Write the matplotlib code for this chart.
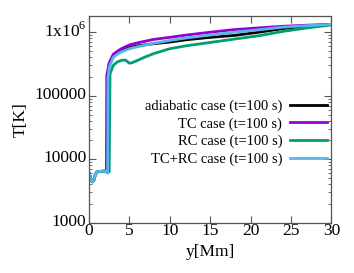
import matplotlib
matplotlib.use("Agg")
import matplotlib.pyplot as plt
import matplotlib.transforms as mtransforms
from matplotlib.ticker import LogLocator, NullFormatter

plt.rcParams['font.family'] = ['Liberation Serif', 'DejaVu Serif']
plt.rcParams['mathtext.fontset'] = 'custom'
plt.rcParams['mathtext.rm'] = 'Liberation Serif'

labels = ["adiabatic case (t=100 s)", "TC case (t=100 s)",
          "RC case (t=100 s)", "TC+RC case (t=100 s)"]
colors = ["#000000", "#9400D3", "#009E73", "#56B4E9"]

low_x = [0, 0.2, 0.4, 0.6, 0.8, 1.0, 1.3, 1.6, 2.0]
low_T = [6100, 5000, 4400, 4700, 5800, 6300, 6400, 6450, 6500]

adi_x = low_x + [2.25, 2.3, 2.5, 3, 3.5, 4, 5, 6, 8, 10, 12, 15, 18, 21, 24, 27, 30]
adi_T = low_T + [6500, 2.0e5, 3.1e5, 4.2e5, 4.7e5, 5.1e5, 5.7e5, 6.1e5, 6.6e5, 7.0e5,
                 7.6e5, 8.3e5, 8.9e5, 1.0e6, 1.14e6, 1.25e6, 1.33e6]

tc_x = low_x + [2.15, 2.2, 2.5, 3, 3.5, 4, 5, 6, 8, 10, 12, 15, 18, 21, 24, 27, 30]
tc_T = low_T + [6500, 2.1e5, 3.3e5, 4.5e5, 5.0e5, 5.5e5, 6.3e5, 6.8e5, 7.7e5, 8.3e5,
                9.0e5, 1.0e6, 1.1e6, 1.17e6, 1.24e6, 1.29e6, 1.33e6]

rc_x = low_x + [2.5, 2.6, 3, 3.5, 4, 4.5, 5, 5.3, 6, 7, 8, 10, 12, 15, 18, 21, 24, 27, 30]
rc_T = low_T + [6300, 2.2e5, 3.0e5, 3.4e5, 3.6e5, 3.65e5, 3.25e5, 3.3e5, 3.6e5, 4.1e5,
                4.6e5, 5.5e5, 6.1e5, 6.9e5, 7.8e5, 8.8e5, 1.03e6, 1.17e6, 1.3e6]

tcrc_x = low_x + [2.3, 2.35, 2.5, 3, 3.5, 4, 5, 6, 8, 10, 12, 15, 18, 21, 24, 27, 30]
tcrc_T = low_T + [6000, 1.9e5, 2.8e5, 4.0e5, 4.5e5, 4.9e5, 5.5e5, 5.9e5, 6.7e5, 7.4e5,
                  8.1e5, 9.0e5, 1.0e6, 1.09e6, 1.2e6, 1.27e6, 1.33e6]

series_x = [adi_x, tc_x, rc_x, tcrc_x]
series_T = [adi_T, tc_T, rc_T, tcrc_T]

xticks = [0, 5, 10, 15, 20, 25, 30]
yticks = [1e3, 1e4, 1e5, 1e6]
yticklabels = ["1000", "10000", "100000", r"1x10$^6$"]

fig = plt.figure(figsize=(3.54, 2.73), dpi=100)
ax = fig.add_axes([0.2514, 0.1842, 0.685, 0.7572])

for x, T, c, lab in zip(series_x, series_T, colors, labels):
    ax.plot(x, T, color=c, lw=2.0, label=lab)

ax.set_yscale('log')
ax.set_xlim(0, 30)
ax.set_ylim(1000, 1.8e6)
ax.set_xticks(xticks)
ax.set_yticks(yticks)
ax.set_yticklabels(yticklabels)
ax.yaxis.set_minor_locator(LogLocator(base=10, subs=range(2, 10)))
ax.yaxis.set_minor_formatter(NullFormatter())
ax.tick_params(which='both', direction='in', top=True, right=True, labelsize=12.5,
               color='#555555')
ax.tick_params(axis='x', pad=0.5)
ax.tick_params(axis='y', pad=2)
ax.tick_params(which='major', length=5, width=0.8)
ax.tick_params(which='minor', length=2.5, width=0.6)
for s in ax.spines.values():
    s.set_color('#555555')
    s.set_linewidth(0.9)

# gnuplot-like slight upward shift of y tick labels
offset = mtransforms.ScaledTranslation(0, 3 / 100, fig.dpi_scale_trans)
for lbl in ax.get_yticklabels():
    lbl.set_transform(lbl.get_transform() + offset)

ax.set_xlabel("y[Mm]", fontsize=12.5, labelpad=3.5)
ax.set_ylabel("T[K]", fontsize=12.5, labelpad=4)

leg = ax.legend(loc='upper right', bbox_to_anchor=(0.98, 0.595), frameon=False,
                markerfirst=False, fontsize=10.5, handlelength=2.5,
                handletextpad=0.55, labelspacing=0.28, borderaxespad=0, borderpad=0)
for t in leg.get_texts():
    t.set_ha('right')
leg._legend_box.align = 'right'
for line in leg.get_lines():
    line.set_linewidth(2.0)

fig.savefig("out.png", dpi=100)
